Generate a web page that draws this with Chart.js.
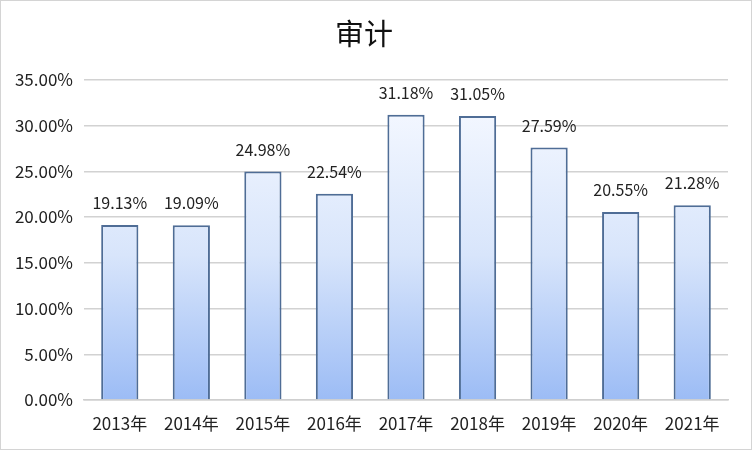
<!DOCTYPE html>
<html>
<head>
<meta charset="utf-8">
<script src="https://cdn.jsdelivr.net/npm/chart.js@4/dist/chart.umd.min.js"></script>
<style>
  body { margin: 0; background: #fff; }
  #wrap { width: 752px; height: 452px; }
</style>
</head>
<body>
<div id="wrap"><canvas id="auditChart" width="752" height="452"></canvas></div>
<script>
const years = ['2013年', '2014年', '2015年', '2016年', '2017年', '2018年', '2019年', '2020年', '2021年'];
const rates = [19.13, 19.09, 24.98, 22.54, 31.18, 31.05, 27.59, 20.55, 21.28];
const yTicks = [0, 5, 10, 15, 20, 25, 30, 35];

const FONT = "'Noto Sans CJK SC', 'Noto Sans', sans-serif";

const valueLabels = {
    id: 'valueLabels',
    afterDatasetsDraw(chart) {
        const ctx = chart.ctx;
        const meta = chart.getDatasetMeta(0);
        ctx.save();
        ctx.font = '16px ' + FONT;
        ctx.fillStyle = '#222';
        ctx.textAlign = 'center';
        ctx.textBaseline = 'middle';
        meta.data.forEach((bar, i) => {
            ctx.fillText(rates[i].toFixed(2) + '%', bar.x, bar.y - 22);
        });
        ctx.restore();
    }
};

const frame = {
    id: 'frame',
    afterDraw(chart) {
        const ctx = chart.ctx;
        ctx.save();
        ctx.strokeStyle = '#d4d4d4';
        ctx.lineWidth = 1;
        ctx.strokeRect(0.5, 0.5, chart.width - 1, chart.height - 3);
        ctx.restore();
    }
};

function barFill(context) {
    const area = context.chart.chartArea;
    if (!area) return '#cfe0fb';
    const g = context.chart.ctx.createLinearGradient(0, area.top + 30, 0, area.bottom);
    g.addColorStop(0, '#f3f7ff');
    g.addColorStop(0.5, '#d8e5fb');
    g.addColorStop(1, '#9cbcf5');
    return g;
}

const ctx = document.getElementById('auditChart').getContext('2d');
new Chart(ctx, {
    type: 'bar',
    data: {
        labels: years,
        datasets: [{
            data: rates,
            backgroundColor: barFill,
            borderColor: '#4f6d96',
            borderWidth: 2,
            borderSkipped: 'bottom',
            categoryPercentage: 1,
            barPercentage: 0.52
        }]
    },
    options: {
        responsive: false,
        animation: false,
        layout: { padding: { left: 0, right: 24, top: 0, bottom: 0 } },
        plugins: {
            legend: { display: false },
            tooltip: { enabled: false },
            title: {
                display: true,
                text: '审计',
                color: '#111',
                font: { family: FONT, size: 29, weight: 'normal' },
                padding: { top: 17, bottom: 28 }
            }
        },
        scales: {
            x: {
                grid: { display: false },
                border: { display: true, color: '#cfcfcf', width: 1.5 },
                ticks: {
                    color: '#222',
                    font: { family: FONT, size: 17 },
                    padding: 5,
                    maxRotation: 0
                },
                afterFit(scale) { scale.height = 52; }
            },
            y: {
                min: 0,
                max: 35,
                afterBuildTicks(scale) {
                    scale.ticks = yTicks.map(v => ({ value: v }));
                },
                grid: { color: '#d2d2d2', lineWidth: 1.5, drawTicks: false },
                border: { display: false },
                ticks: {
                    color: '#222',
                    font: { family: FONT, size: 17 },
                    padding: 11,
                    callback: v => v.toFixed(2) + '%'
                },
                afterFit(scale) { scale.width = 84; }
            }
        }
    },
    plugins: [valueLabels, frame]
});
</script>
</body>
</html>
